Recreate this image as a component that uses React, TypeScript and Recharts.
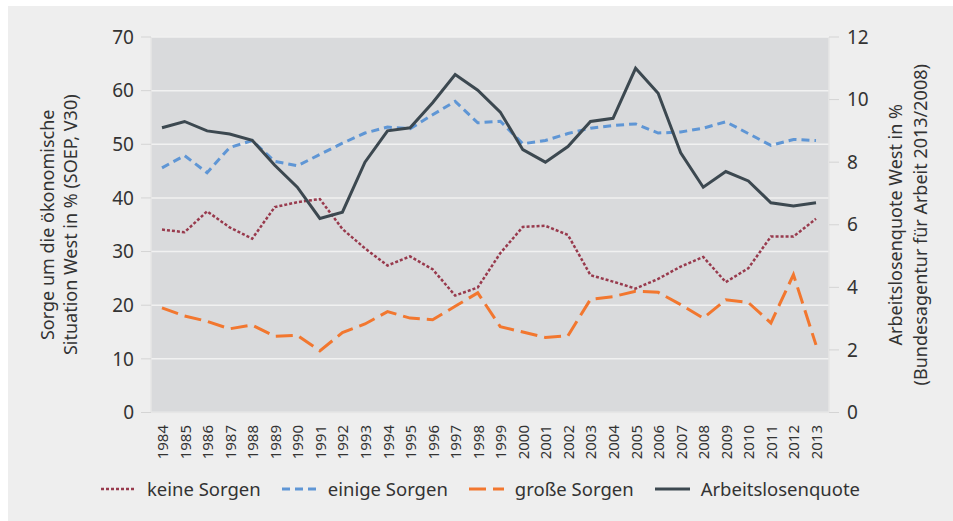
import { CartesianGrid, Legend, Line, LineChart, XAxis, YAxis } from "recharts";

const years = [
  "1984", "1985", "1986", "1987", "1988", "1989", "1990", "1991", "1992", "1993",
  "1994", "1995", "1996", "1997", "1998", "1999", "2000", "2001", "2002", "2003",
  "2004", "2005", "2006", "2007", "2008", "2009", "2010", "2011", "2012", "2013",
];

// Sorge um die ökonomische Situation, West, in %
const keineSorgen = [
  34.1, 33.6, 37.5, 34.5, 32.4, 38.3, 39.2, 39.8, 34.2, 30.6,
  27.4, 29.1, 26.7, 21.8, 23.3, 29.7, 34.6, 34.8, 33.1, 25.6,
  24.4, 23.1, 24.9, 27.2, 29.0, 24.3, 26.9, 32.8, 32.8, 36.1,
];
const einigeSorgen = [
  45.6, 47.9, 44.7, 49.4, 50.7, 46.8, 46.0, 48.1, 50.2, 52.1,
  53.2, 52.9, 55.5, 58.0, 54.0, 54.3, 50.1, 50.7, 52.0, 53.0,
  53.5, 53.8, 52.1, 52.3, 53.0, 54.2, 52.0, 49.8, 50.9, 50.7,
];
const grosseSorgen = [
  19.5, 18.0, 17.0, 15.6, 16.3, 14.2, 14.4, 11.5, 14.9, 16.5,
  18.8, 17.6, 17.3, 19.8, 22.3, 16.0, 15.0, 14.0, 14.3, 21.1,
  21.6, 22.6, 22.4, 20.1, 17.6, 21.0, 20.5, 16.7, 25.7, 12.6,
];
// Arbeitslosenquote West in %
const arbeitslosenquote = [
  9.1, 9.3, 9.0, 8.9, 8.7, 7.9, 7.2, 6.2, 6.4, 8.0,
  9.0, 9.1, 9.9, 10.8, 10.3, 9.6, 8.4, 8.0, 8.5, 9.3,
  9.4, 11.0, 10.2, 8.3, 7.2, 7.7, 7.4, 6.7, 6.6, 6.7,
];

const leftTicks = [0, 10, 20, 30, 40, 50, 60, 70];
const rightTicks = [0, 2, 4, 6, 8, 10, 12];

const data = years.map((year, i) => ({
  year,
  keine: keineSorgen[i],
  einige: einigeSorgen[i],
  grosse: grosseSorgen[i],
  alq: arbeitslosenquote[i],
}));

const series = [
  { key: "keine", name: "keine Sorgen", color: "#983a4d", dash: "3 2", width: 2.5, axis: "left" },
  { key: "einige", name: "einige Sorgen", color: "#5f96d5", dash: "8 5", width: 3, axis: "left" },
  { key: "grosse", name: "große Sorgen", color: "#f2772f", dash: "17 7", width: 3, axis: "left" },
  { key: "alq", name: "Arbeitslosenquote", color: "#3c4850", dash: undefined, width: 3, axis: "right" },
];

const textColor = "#333333";

function YearTick(props: any) {
  const { x, y, payload } = props;
  return (
    <g transform={`translate(${x},${y})`}>
      <text
        transform="rotate(-90)"
        textAnchor="end"
        dominantBaseline="central"
        fontSize={15}
        fill={textColor}
      >
        {payload.value}
      </text>
    </g>
  );
}

function AxisTitle({ viewBox, lines, offsets }: any) {
  if (!viewBox) return null;
  const cy = viewBox.y + viewBox.height / 2;
  return (
    <g>
      {lines.map((line: string, i: number) => {
        const cx = viewBox.x + offsets[i];
        return (
          <text
            key={line}
            x={cx}
            y={cy}
            transform={`rotate(-90, ${cx}, ${cy})`}
            textAnchor="middle"
            dominantBaseline="central"
            fontSize={18}
            fill={textColor}
          >
            {line}
          </text>
        );
      })}
    </g>
  );
}

function LegendContent() {
  return (
    <div
      style={{
        height: 48,
        boxSizing: "border-box",
        paddingTop: 5,
        display: "flex",
        justifyContent: "center",
        alignItems: "flex-start",
        gap: 21,
        fontSize: 18.5,
        lineHeight: "22px",
        color: textColor,
      }}
    >
      {series.map((s) => (
        <div key={s.key} style={{ display: "flex", alignItems: "center", gap: 11, height: 22 }}>
          <svg width={35} height={6}>
            <line
              x1={0}
              y1={3}
              x2={35}
              y2={3}
              stroke={s.color}
              strokeWidth={s.width}
              strokeDasharray={s.dash}
            />
          </svg>
          <span>{s.name}</span>
        </div>
      ))}
    </div>
  );
}

export default function App() {
  return (
    <div
      style={{
        position: "absolute",
        left: 0,
        top: 0,
        width: 953,
        height: 521,
        background: "#ffffff",
      }}
    >
      <div
        style={{
          position: "absolute",
          left: 8,
          top: 6,
          width: 945,
          height: 515,
          background: "#eeeeee",
          fontFamily: "'Noto Sans', sans-serif",
        }}
      >
        <LineChart width={945} height={515} data={data} margin={{ top: 31, right: 0, bottom: 0, left: 0 }}>
          <CartesianGrid
            yAxisId="left"
            vertical={false}
            fill="#d9dadc"
            stroke="#f1f1f1"
            strokeWidth={1.5}
          />
          <XAxis
            dataKey="year"
            interval={0}
            height={60.5}
            padding={{ left: 11, right: 13 }}
            tickSize={0}
            tickMargin={12.5}
            tick={<YearTick />}
            axisLine={{ stroke: "#e6e6e6", strokeWidth: 1.5 }}
            tickLine={false}
          />
          <YAxis
            yAxisId="left"
            orientation="left"
            width={143}
            domain={[0, 70]}
            ticks={leftTicks}
            tickSize={10}
            tickMargin={7}
            tick={{ fill: textColor, fontSize: 19 }}
            axisLine={{ stroke: "#e6e6e6", strokeWidth: 1.5 }}
            tickLine={{ stroke: "#d4d4d4" }}
            label={{
              content: (p: any) => (
                <AxisTitle
                  {...p}
                  lines={["Sorge um die ökonomische", "Situation West in % (SOEP, V30)"]}
                  offsets={[38.7, 62]}
                />
              ),
            }}
          />
          <YAxis
            yAxisId="right"
            orientation="right"
            width={124}
            domain={[0, 12]}
            ticks={rightTicks}
            tickSize={10}
            tickMargin={8}
            tick={{ fill: textColor, fontSize: 19 }}
            axisLine={{ stroke: "#e6e6e6", strokeWidth: 1.5 }}
            tickLine={{ stroke: "#d4d4d4" }}
            label={{
              content: (p: any) => (
                <AxisTitle
                  {...p}
                  lines={["Arbeitslosenquote West in %", "(Bundesagentur für Arbeit 2013/2008)"]}
                  offsets={[66, 91]}
                />
              ),
            }}
          />
          <Legend verticalAlign="bottom" content={<LegendContent />} />
          {series.map((s) => (
            <Line
              key={s.key}
              yAxisId={s.axis}
              type="linear"
              dataKey={s.key}
              name={s.name}
              stroke={s.color}
              strokeWidth={s.width}
              strokeDasharray={s.dash}
              dot={false}
              activeDot={false}
              isAnimationActive={false}
            />
          ))}
        </LineChart>
      </div>
    </div>
  );
}
